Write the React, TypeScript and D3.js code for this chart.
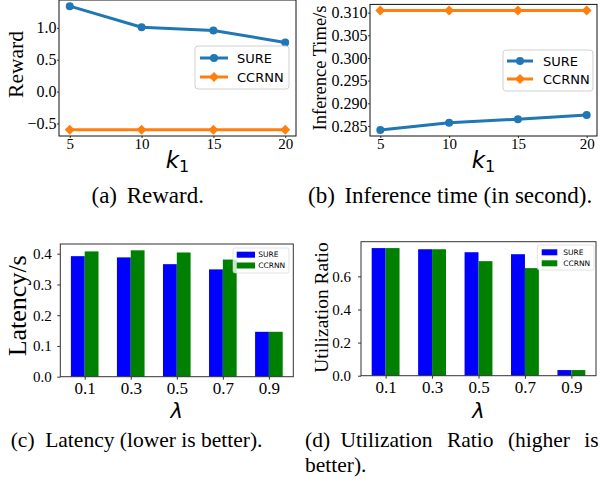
import React, { useEffect, useRef } from "react";
import * as d3 from "d3";

// k1 sweep (panels a, b)
const kValues = [5, 10, 15, 20];
const rewardSure = [1.34, 1.01, 0.96, 0.77];
const rewardCcrnn = [-0.6, -0.6, -0.6, -0.6];
const timeSure = [0.2841, 0.2857, 0.2865, 0.2874];
const timeCcrnn = [0.3105, 0.3105, 0.3105, 0.3105];

// lambda sweep (panels c, d)
const lambdaLabels = ["0.1", "0.3", "0.5", "0.7", "0.9"];
const latencySure = [0.392, 0.388, 0.366, 0.349, 0.146];
const latencyCcrnn = [0.4075, 0.411, 0.404, 0.381, 0.146];
const utilSure = [0.771, 0.764, 0.746, 0.734, 0.034];
const utilCcrnn = [0.771, 0.764, 0.692, 0.65, 0.034];

const seriesNames = ["SURE", "CCRNN"];

const SERIF = "'Liberation Serif', 'Times New Roman', serif";
const SANS = "'DejaVu Sans', sans-serif";
const LINE_COLORS = ["#1f77b4", "#ff7f0e"];
const BAR_COLORS = ["#0000ff", "#008000"];

type Sel = d3.Selection<SVGSVGElement, unknown, null, undefined>;

function styleTicks(g: any, size: number) {
  g.select(".domain").remove();
  g.selectAll("line").attr("stroke", "#000").attr("stroke-width", 0.8);
  g.selectAll("text").attr("font-family", SERIF).attr("font-size", size).attr("fill", "#000");
}

function marker(g: any, kind: string, cx: number, cy: number, color: string) {
  if (kind === "circle") {
    g.append("circle").attr("cx", cx).attr("cy", cy).attr("r", 4).attr("fill", color);
  } else {
    g.append("path")
      .attr("d", d3.symbol(d3.symbolSquare, 50)())
      .attr("transform", `translate(${cx},${cy}) rotate(45)`)
      .attr("fill", color);
  }
}

function rotLabel(svg: Sel, text: string, x: number, cy: number, size: number) {
  svg.append("text")
    .attr("transform", `translate(${x},${cy}) rotate(-90)`)
    .attr("text-anchor", "middle")
    .attr("font-family", SERIF)
    .attr("font-size", size)
    .text(text);
}

function kLabel(svg: Sel, cx: number, y: number) {
  const t = svg.append("text")
    .attr("x", cx).attr("y", y)
    .attr("text-anchor", "middle")
    .attr("font-family", SANS);
  t.append("tspan").attr("font-size", 23).attr("font-style", "italic").text("k");
  t.append("tspan").attr("font-size", 16).attr("dy", 4).text("1");
}

function drawLinePanel(svg: Sel, p: any) {
  const [x0, x1] = d3.extent(kValues) as number[];
  const xm = (x1 - x0) * 0.05;
  const x = d3.scaleLinear().domain([x0 - xm, x1 + xm]).range([p.left, p.right]);
  const [y0, y1] = d3.extent(p.series.flat() as number[]) as number[];
  const ym = (y1 - y0) * 0.05;
  const y = d3.scaleLinear().domain([y0 - ym, y1 + ym]).range([p.bottom, p.top]);

  const gx = svg.append("g")
    .attr("transform", `translate(0,${p.bottom})`)
    .call(d3.axisBottom(x).tickValues(kValues).tickSize(2).tickPadding(0).tickFormat(d3.format("d")));
  styleTicks(gx, 15);

  const gy = svg.append("g")
    .attr("transform", `translate(${p.left},0)`)
    .call(d3.axisLeft(y).tickValues(p.yTicks).tickSize(2).tickPadding(0.5).tickFormat(p.fmt));
  styleTicks(gy, 16);

  const line = d3.line<number>().x((d, i) => x(kValues[i])).y((d) => y(d));
  p.series.forEach((vals: number[], s: number) => {
    svg.append("path")
      .datum(vals)
      .attr("fill", "none")
      .attr("stroke", LINE_COLORS[s])
      .attr("stroke-width", 3)
      .attr("stroke-linejoin", "round")
      .attr("d", line);
    vals.forEach((v, i) => marker(svg, s === 0 ? "circle" : "diamond", x(kValues[i]), y(v), LINE_COLORS[s]));
  });

  // legend
  const L = p.legend;
  svg.append("rect")
    .attr("x", L.x).attr("y", L.y).attr("width", L.w).attr("height", L.h).attr("rx", 3)
    .attr("fill", "#fff").attr("fill-opacity", 0.8).attr("stroke", "#d0d0d0");
  seriesNames.forEach((name, s) => {
    const ry = L.rows[s];
    svg.append("line")
      .attr("x1", L.hx0).attr("x2", L.hx1).attr("y1", ry).attr("y2", ry)
      .attr("stroke", LINE_COLORS[s]).attr("stroke-width", 3);
    marker(svg, s === 0 ? "circle" : "diamond", (L.hx0 + L.hx1) / 2, ry, LINE_COLORS[s]);
    svg.append("text")
      .attr("x", L.tx).attr("y", ry).attr("dy", "0.36em")
      .attr("font-family", SANS).attr("font-size", 13)
      .text(name);
  });

  svg.append("rect")
    .attr("x", p.left).attr("y", p.top).attr("width", p.right - p.left).attr("height", p.bottom - p.top)
    .attr("fill", "none").attr("stroke", "#111").attr("stroke-width", 1);

  rotLabel(svg, p.ylabel, p.ylabelX, p.ylabelY, p.ylabelSize);
  kLabel(svg, (p.left + p.right) / 2, 168);
}

function drawBarPanel(svg: Sel, p: any) {
  const barW = 0.3;
  const n = lambdaLabels.length;
  const span = n - 1 + 2 * barW;
  const x = d3.scaleLinear()
    .domain([-barW - span * 0.05, n - 1 + barW + span * 0.05])
    .range([p.left, p.right]);
  const ymax = (d3.max(p.series.flat() as number[]) as number) * 1.05;
  const y = d3.scaleLinear().domain([0, ymax]).range([p.bottom, p.top]);

  const gx = svg.append("g")
    .attr("transform", `translate(0,${p.bottom})`)
    .call(d3.axisBottom(x).tickValues(d3.range(n)).tickSize(3).tickPadding(2.5)
      .tickFormat((d: any) => lambdaLabels[d]));
  styleTicks(gx, 17);

  const gy = svg.append("g")
    .attr("transform", `translate(${p.left},0)`)
    .call(d3.axisLeft(y).tickValues(p.yTicks).tickSize(3).tickPadding(p.yPad).tickFormat(d3.format(".1f")));
  styleTicks(gy, 15);

  p.series.forEach((vals: number[], s: number) => {
    svg.append("g").selectAll("rect")
      .data(vals)
      .join("rect")
      .attr("x", (d, i) => x(i - barW + s * barW))
      .attr("width", x(barW) - x(0))
      .attr("y", (d) => y(d))
      .attr("height", (d) => y(0) - y(d))
      .attr("fill", BAR_COLORS[s]);
  });

  const L = p.legend;
  svg.append("rect")
    .attr("x", L.x).attr("y", L.y).attr("width", L.w).attr("height", L.h).attr("rx", 2)
    .attr("fill", "#fff").attr("fill-opacity", 0.8).attr("stroke", "#d0d0d0").attr("stroke-width", 0.6);
  seriesNames.forEach((name, s) => {
    const ry = L.rows[s];
    svg.append("rect")
      .attr("x", L.px).attr("y", ry - 3).attr("width", L.pw).attr("height", 6)
      .attr("fill", BAR_COLORS[s]);
    svg.append("text")
      .attr("x", L.tx).attr("y", ry).attr("dy", "0.36em")
      .attr("font-family", SANS).attr("font-size", 7.5)
      .text(name);
  });

  svg.append("rect")
    .attr("x", p.left).attr("y", p.top).attr("width", p.right - p.left).attr("height", p.bottom - p.top)
    .attr("fill", "none").attr("stroke", "#333").attr("stroke-width", 1);

  rotLabel(svg, p.ylabel, p.ylabelX, p.ylabelY, p.ylabelSize);
  svg.append("text")
    .attr("x", (p.left + p.right) / 2).attr("y", 418)
    .attr("text-anchor", "middle")
    .attr("font-family", SANS).attr("font-style", "italic").attr("font-size", 21)
    .text("λ");
}

function caption(svg: Sel, tag: string, text: string, x: number, tx: number, y: number, size: number, wordSpacing = 0) {
  const t = svg.append("g").attr("font-family", SERIF).attr("font-size", size);
  t.append("text").attr("x", x).attr("y", y).text(tag);
  t.append("text").attr("x", tx).attr("y", y).attr("word-spacing", wordSpacing).text(text);
}

export default function App() {
  const ref = useRef<SVGSVGElement>(null);

  useEffect(() => {
    const svg = d3.select(ref.current as SVGSVGElement);
    svg.selectAll("*").remove();

    drawLinePanel(svg, {
      left: 59, right: 296, top: 0, bottom: 136,
      series: [rewardSure, rewardCcrnn],
      yTicks: [-0.5, 0, 0.5, 1.0],
      fmt: (d: number) => d3.format(".1f")(d).replace("-", "\u2212"),
      ylabel: "Reward", ylabelX: 23, ylabelY: 64.5, ylabelSize: 21.5,
      legend: { x: 195, y: 46, w: 94, h: 43, rows: [58, 77], hx0: 200, hx1: 228, tx: 237 },
    });

    drawLinePanel(svg, {
      left: 370, right: 597, top: 4.4, bottom: 136,
      series: [timeSure, timeCcrnn],
      yTicks: [0.285, 0.29, 0.295, 0.3, 0.305, 0.31],
      fmt: d3.format(".3f"),
      ylabel: "Inference Time/s", ylabelX: 326, ylabelY: 68, ylabelSize: 18.5,
      legend: { x: 503, y: 50, w: 90, h: 41, rows: [61, 79], hx0: 507, hx1: 533, tx: 543 },
    });

    drawBarPanel(svg, {
      left: 60.3, right: 293.3, top: 244, bottom: 376.7,
      series: [latencySure, latencyCcrnn],
      yTicks: [0, 0.1, 0.2, 0.3, 0.4], yPad: 5.5,
      ylabel: "Latency/s", ylabelX: 26, ylabelY: 305.8, ylabelSize: 26,
      legend: { x: 233, y: 248, w: 56, h: 25, rows: [254.7, 265.5], px: 236.7, pw: 18.3, tx: 258.3 },
    });

    drawBarPanel(svg, {
      left: 361, right: 596, top: 241.7, bottom: 375.7,
      series: [utilSure, utilCcrnn],
      yTicks: [0, 0.2, 0.4, 0.6], yPad: 7,
      ylabel: "Utilization Ratio", ylabelX: 328, ylabelY: 307.5, ylabelSize: 19.5,
      legend: { x: 537.3, y: 245, w: 56.7, h: 25, rows: [252.3, 263.3], px: 541.7, pw: 15.6, tx: 563.3 },
    });

    caption(svg, "(a)", "Reward.", 91.5, 126.7, 203, 23);
    caption(svg, "(b)", "Inference time (in second).", 308, 344.4, 203, 23);
    caption(svg, "(c)", "Latency (lower is better).", 10.7, 45.2, 447, 21.5);
    caption(svg, "(d)", "Utilization Ratio (higher is", 305, 340.6, 447, 21.5, 9);
    svg.append("text")
      .attr("x", 305).attr("y", 472)
      .attr("font-family", SERIF).attr("font-size", 21.5)
      .text("better).");
  }, []);

  return (
    <svg
      ref={ref}
      width={600}
      height={490}
      style={{ position: "absolute", left: 0, top: 0, background: "#fff" }}
    />
  );
}
